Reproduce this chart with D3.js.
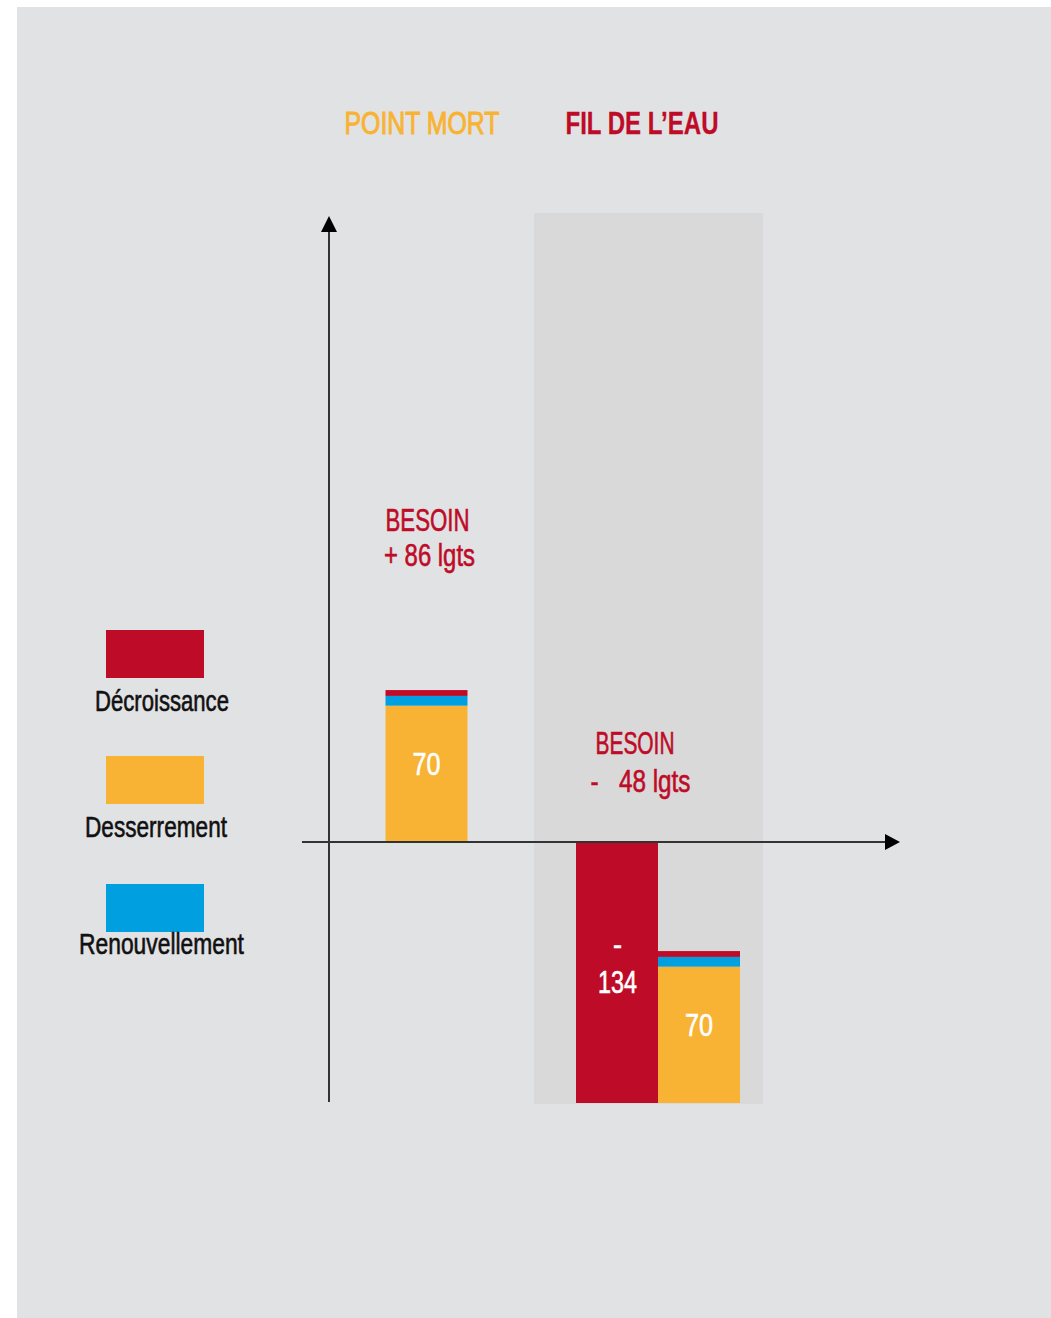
<!DOCTYPE html>
<html lang="fr">
<head>
<meta charset="UTF-8" />
<title>Besoin en logements</title>
<style>
  body { margin: 0; background: #fff; }
  text { font-family: "Liberation Sans", Arial, sans-serif; white-space: pre; }
</style>
</head>
<body>
<script src="https://cdn.jsdelivr.net/npm/d3@7"></script>
<script>
// ---- data ----
var scenarios = ["POINT MORT", "FIL DE L\u2019EAU"];
var desserrement = [70, 70];
var renouvellement = [5, 5];
var decroissanceHaut = [3, 3];      // thin red slice on top of each stack
var decroissance = [0, -134];        // separate negative bar
var besoinLabels = ["+ 86 lgts", "-   48 lgts"];
var legendLabels = ["D\u00e9croissance", "Desserrement", "Renouvellement"];

var colors = { red: "#be0b28", orange: "#f8b334", blue: "#009fe0" };
var scenarioColors = [colors.orange, colors.red];

var width = 1051, height = 1318;

var svg = d3.select("body").append("svg")
  .attr("width", width).attr("height", height);

// page background
svg.append("rect").attr("x", 17).attr("y", 7)
  .attr("width", width - 17).attr("height", height - 7)
  .attr("fill", "#e1e2e4");

// scales
var x = d3.scaleBand().domain(scenarios).range([305, 763]).padding(0);
var y = d3.scaleLinear().domain([0, -134]).range([842, 1103]);

var barW = 82, shift = [7, 9.5];

// condensed label: text squeezed horizontally to a target width
function label(cx, cy, str, o) {
  var t = svg.append("text")
    .attr("text-anchor", "middle")
    .style("font-size", o.size + "px")
    .style("font-weight", o.weight || 400)
    .attr("fill", o.fill)
    .attr("stroke", o.fill)
    .attr("stroke-width", o.sw == null ? 0.6 : o.sw)
    .text(str);
  var sx = o.w ? o.w / t.node().getComputedTextLength() : 0.8;
  t.attr("transform", "translate(" + cx + "," + cy + ") scale(" + sx + ",1)");
  return t;
}

// shaded column behind the second scenario
svg.append("rect")
  .attr("x", x(scenarios[1])).attr("y", 213)
  .attr("width", x.bandwidth()).attr("height", 1104 - 213)
  .attr("fill", "#d9d9d9");

// titles
var titleW = [155, 153];
scenarios.forEach(function(s, i) {
  label(x(s) + x.bandwidth() / 2 + (i ? -6.5 : 2.5), 134, s,
    { size: 31, fill: scenarioColors[i], weight: i ? 700 : 400, w: titleW[i], sw: i ? 0.3 : 1 });
});

// stacked bars: base 0 for first scenario, base = decroissance for second
var besoinW = [[84, 91], [79, 100]];
scenarios.forEach(function(s, i) {
  var cx = x(s) + x.bandwidth() / 2 + shift[i];
  var x0 = i === 0 ? cx - barW / 2 : cx;
  var base = decroissance[i];

  if (decroissance[i] < 0) {
    svg.append("rect")
      .attr("x", cx - barW).attr("y", y(0))
      .attr("width", barW).attr("height", y(decroissance[i]) - y(0))
      .attr("fill", colors.red);
    label(cx - barW / 2 + 0.5, y(decroissance[i] / 2) - 18, "-", { size: 31, fill: "#fff", w: 9 });
    label(cx - barW / 2 + 0.5, y(decroissance[i] / 2) + 20, String(-decroissance[i]), { size: 31, fill: "#fff", w: 39 });
  }

  var segs = [
    { v: desserrement[i], c: colors.orange },
    { v: renouvellement[i], c: colors.blue },
    { v: decroissanceHaut[i], c: colors.red }
  ];
  var acc = base;
  segs.forEach(function(d) {
    svg.append("rect")
      .attr("x", x0).attr("y", y(acc + d.v))
      .attr("width", barW).attr("height", y(acc) - y(acc + d.v))
      .attr("fill", d.c);
    acc += d.v;
  });
  // value label inside the orange part
  label(x0 + barW / 2, y(base + desserrement[i] / 2) + 1, String(desserrement[i]), { size: 31, fill: "#fff", w: 28 });

  // BESOIN label above the stack
  var ly = y(acc) - (i === 0 ? 159 : 197);
  var lx = i === 0 ? cx + 1 : cx - 23;
  label(lx, ly, "BESOIN", { size: 31, fill: colors.red, w: besoinW[i][0] });
  label(lx + (i ? 5.5 : 2), ly + (i ? 38 : 35), besoinLabels[i], { size: 31, fill: colors.red, w: besoinW[i][1] });
});

// axes with arrowheads
var axisColor = "#333";
svg.append("line").attr("x1", 329).attr("x2", 329).attr("y1", 1102).attr("y2", 228)
  .attr("stroke", axisColor).attr("stroke-width", 2);
svg.append("path").attr("d", "M329,216 L337,232 L321,232 Z").attr("fill", "#000");
svg.append("line").attr("x1", 302).attr("x2", 888).attr("y1", y(0)).attr("y2", y(0))
  .attr("stroke", axisColor).attr("stroke-width", 2);
svg.append("path").attr("d", "M900," + y(0) + " L885," + (y(0) - 8) + " L885," + (y(0) + 8) + " Z").attr("fill", "#000");

// legend
var legendColors = [colors.red, colors.orange, colors.blue];
var legendTop = [630, 756, 884];
var legendBase = [711, 837, 954];
var legendCx = [162, 156, 161.5];
var legendW = [134, 142, 165];
legendLabels.forEach(function(t, i) {
  svg.append("rect").attr("x", 106).attr("y", legendTop[i])
    .attr("width", 98).attr("height", 48).attr("fill", legendColors[i]);
  label(legendCx[i], legendBase[i], t, { size: 29, fill: "#111", w: legendW[i] });
});
</script>
</body>
</html>
